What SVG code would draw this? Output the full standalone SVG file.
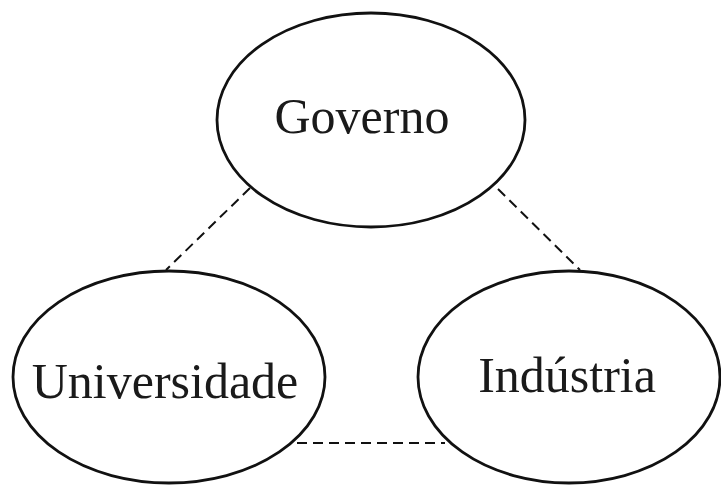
<svg xmlns="http://www.w3.org/2000/svg" width="721" height="487" viewBox="0 0 721 487">
<style>
.node{fill:#fff;stroke:#111;stroke-width:2.8}
.lbl{font-family:"Liberation Serif","Times New Roman",serif;font-size:50px;fill:#1a1a1a;text-anchor:middle}
.conn{stroke:#111;stroke-width:2;stroke-dasharray:10 6;fill:none}
</style>
<rect width="721" height="487" fill="#fff"/>
<g id="connectors">
<line class="conn" x1="250" y1="188" x2="166" y2="270"/>
<line class="conn" x1="498" y1="189" x2="580" y2="270"/>
<line class="conn" x1="297" y1="443" x2="445" y2="443"/>
</g>
<g id="governo">
<ellipse class="node" cx="371" cy="120" rx="154" ry="107"/>
<text class="lbl" x="362" y="133">Governo</text>
</g>
<g id="universidade">
<ellipse class="node" cx="169" cy="377" rx="156" ry="106"/>
<text class="lbl" x="165" y="398">Universidade</text>
</g>
<g id="industria">
<ellipse class="node" cx="569" cy="377" rx="151" ry="106"/>
<text class="lbl" x="567" y="392">Indústria</text>
</g>
</svg>
